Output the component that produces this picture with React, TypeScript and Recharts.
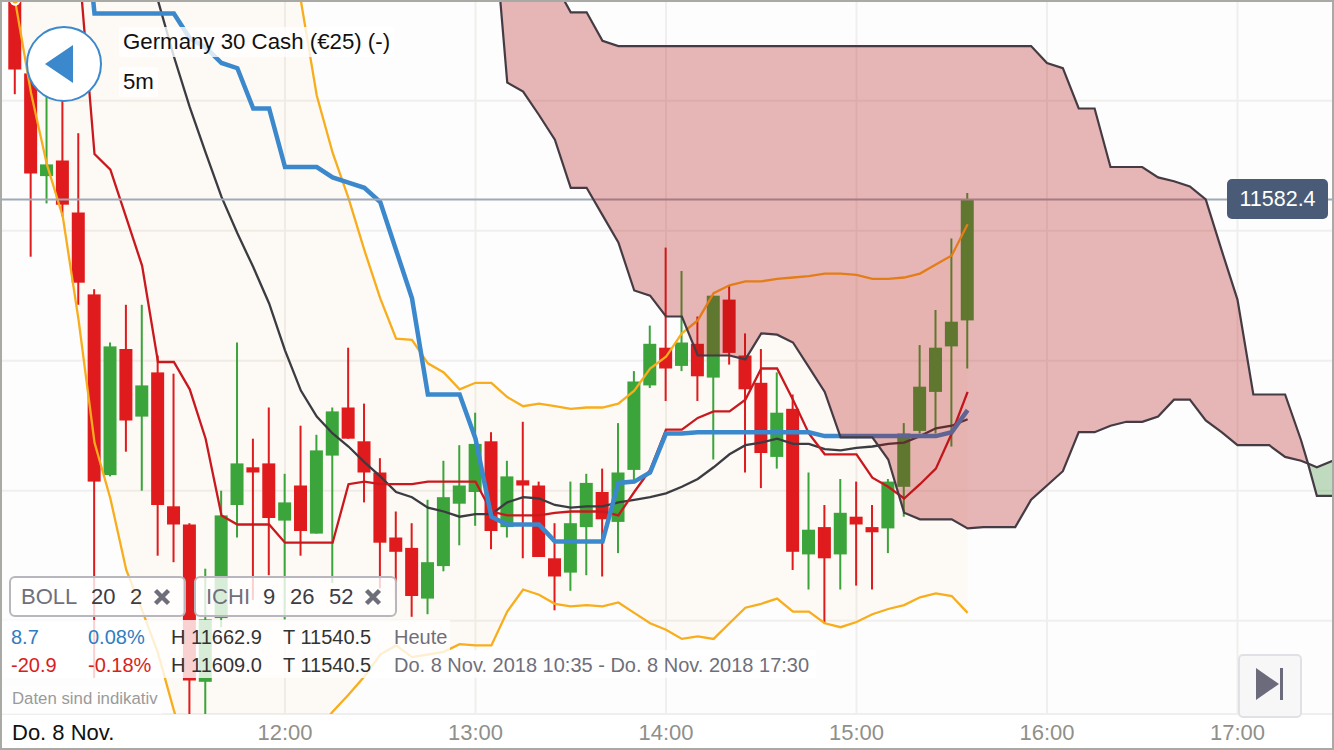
import React from "react";
import {
  ComposedChart, Bar, Line, Area, XAxis, YAxis, CartesianGrid, ReferenceLine,
} from "recharts";

// ---- candles: first candle is 10:35, index counts 5-minute steps from 12:00
const candleStart = -17;
const opens = [11599.3,11592.1,11584.2,11585.4,11581.4,11575.1,11561.2,11570.9,11565.7,11569.1,11558.8,11557.4,11545.3,11550.2,11558.9,11561.8,11562.1,11557.7,11560.4,11556.7,11562.7,11566.4,11563.8,11561.4,11556.4,11555.6,11551.7,11554.2,11559.0,11559.9,11563.8,11557.2,11560.8,11560.4,11554.8,11553.7,11557.2,11559.9,11557.6,11561.6,11568.1,11571.0,11569.6,11571.3,11568.7,11574.7,11570.4,11568.3,11562.6,11566.3,11555.1,11557.2,11555.1,11558.0,11557.2,11557.1,11560.3,11564.6,11567.6,11571.1,11573.1];
const closes = [11592.4,11584.4,11585.1,11582.0,11576.0,11560.7,11571.1,11565.4,11568.1,11558.9,11557.4,11545.4,11550.1,11558.1,11562.1,11561.4,11557.9,11559.1,11556.9,11563.1,11566.1,11564.0,11561.4,11556.0,11555.3,11551.9,11554.5,11559.5,11560.4,11563.6,11556.9,11561.1,11560.4,11554.9,11553.4,11557.5,11560.6,11557.8,11561.4,11568.4,11571.3,11569.4,11571.4,11568.8,11575.0,11570.6,11567.8,11562.9,11566.0,11555.3,11557.0,11554.8,11558.3,11557.4,11556.8,11560.7,11564.4,11568.0,11571.0,11573.0,11582.4];
const highs = [11600.8,11593.1,11590.4,11590.8,11587.5,11575.5,11571.4,11574.3,11574.3,11570.4,11569.0,11557.5,11554.0,11560.0,11571.4,11564.0,11566.4,11561.3,11565.0,11564.3,11566.4,11571.0,11566.7,11562.5,11558.4,11557.5,11559.3,11562.3,11563.5,11566.0,11564.5,11562.3,11565.3,11560.7,11557.5,11560.7,11561.3,11561.7,11565.2,11569.2,11572.7,11578.7,11576.9,11573.4,11575.0,11575.8,11572.1,11570.9,11569.1,11567.4,11561.4,11558.9,11560.9,11560.7,11558.9,11560.9,11565.2,11571.2,11573.9,11579.4,11582.9];
const lows = [11590.5,11578.0,11582.1,11581.1,11574.3,11545.6,11561.1,11563.0,11560.0,11555.0,11554.5,11539.3,11539.3,11549.5,11556.4,11551.6,11553.5,11550.1,11555.0,11556.7,11552.9,11564.0,11559.1,11552.5,11551.6,11550.3,11550.5,11553.8,11555.8,11557.3,11555.5,11556.4,11554.8,11554.9,11550.8,11552.3,11553.5,11553.4,11555.2,11560.8,11567.9,11566.9,11569.2,11566.9,11562.4,11569.7,11561.4,11560.2,11561.7,11553.9,11552.4,11549.8,11552.4,11552.7,11552.4,11555.2,11558.0,11564.4,11564.4,11563.4,11569.4];

// ---- Bollinger 20 2
const bollStart = -17;
const bollUpper = [11640,11639,11638,11637,11636,11635,11634,11633,11632,11630,11628,11626,11624,11621,11618,11614,11610,11605,11597.7,11590.4,11586.0,11582.5,11578.5,11574.8,11571.7,11571.6,11569.8,11569.1,11567.8,11568.3,11568.3,11567.2,11566.5,11566.7,11566.5,11566.3,11566.4,11566.4,11566.7,11567.7,11569.4,11570.3,11572.1,11573.1,11575.2,11575.8,11576.1,11576.1,11576.3,11576.4,11576.5,11576.7,11576.7,11576.6,11576.3,11576.3,11576.4,11576.7,11577.4,11578.1,11580.5];
const bollLower = [11597.7,11590.6,11585.1,11581.1,11573.1,11563.7,11559.4,11553.9,11550.8,11547.5,11543.1,11539.3,11537,11536,11535,11535,11536,11537,11539,11541.5,11543.0,11544.3,11545.7,11547.4,11548.1,11547.2,11547.4,11547.6,11548.2,11548.1,11548.1,11550.7,11552.4,11552.0,11551.3,11551.1,11551.2,11551.1,11551.4,11550.6,11549.8,11549.3,11548.6,11548.8,11548.6,11549.8,11551.0,11551.3,11551.7,11550.7,11550.7,11549.8,11549.5,11549.9,11550.5,11550.9,11551.2,11551.8,11552.1,11551.9,11550.6];
const bollMiddleStart = -9;
const bollMiddle = [11602,11597.7,11593.4,11589.5,11586.0,11582.6,11579.8,11577.2,11574.4,11570.8,11567.7,11565.7,11564.4,11563.4,11562.2,11561.1,11559.9,11559.5,11558.7,11558.4,11558.0,11558.2,11558.2,11559.1,11559.5,11559.4,11558.9,11558.7,11558.8,11558.8,11559.1,11559.3,11559.5,11559.8,11560.3,11560.9,11561.8,11562.8,11563.5,11563.7,11564.0,11563.6,11563.6,11563.2,11563.1,11563.3,11563.4,11563.6,11563.7,11564.2,11564.8,11565.0,11565.5];

// ---- Ichimoku 9 26 52
const tenkanStart = -13;
const tenkan = [11600.8,11585.9,11584.7,11581.0,11577.3,11569.9,11569.9,11567.8,11564.0,11558.1,11557.4,11557.4,11557.4,11556.0,11556.0,11556.0,11556.0,11560.5,11560.7,11560.5,11560.5,11560.5,11560.7,11560.7,11560.7,11560.7,11558.4,11558.1,11558.1,11558.1,11558.3,11558.4,11558.4,11558.4,11558.1,11559.9,11561.6,11564.7,11564.7,11565.6,11566.1,11566.1,11567.0,11569.4,11569.4,11567.0,11564.4,11562.8,11562.8,11562.8,11561.0,11560.3,11559.4,11560.5,11561.7,11564.4,11567.6];
const kijunStart = -13;
const kijun = [11609,11596.7,11596.7,11596.7,11596.7,11596.7,11596.7,11594.8,11594.1,11592.9,11592.5,11589.4,11589.4,11584.9,11584.9,11584.9,11584.1,11583.7,11583.3,11582.2,11578.5,11574.8,11567.4,11567.4,11567.4,11564.0,11558.0,11557.4,11557.4,11557.4,11556.1,11556.1,11556.1,11556.1,11560.6,11560.7,11561.4,11564.4,11564.4,11564.5,11564.5,11564.5,11564.5,11564.5,11564.5,11564.5,11564.5,11564.2,11564.2,11564.2,11564.2,11564.2,11564.2,11564.2,11564.2,11564.5,11566.2];
const cloudStart = 13;
const senkouA = [11605.8,11591.4,11590.7,11588.9,11587.0,11583.3,11583.3,11581.2,11579.1,11575.4,11575.0,11573.4,11573.4,11570.4,11570.4,11570.4,11570.1,11572.1,11572.0,11571.4,11569.5,11567.6,11564.1,11564.1,11564.1,11562.4,11558.3,11557.8,11557.8,11557.8,11557.1,11557.2,11557.2,11557.2,11559.3,11560.4,11561.5,11564.5,11564.5,11565.0,11565.3,11565.3,11565.7,11567.0,11567.0,11565.4,11564.5,11563.5,11563.5,11563.5,11562.6,11562.3,11561.8,11562.3];
const senkouB = [11612,11610,11608,11604,11599.0,11596.8,11596.8,11594.6,11594.2,11594.2,11594.2,11594.2,11594.2,11594.2,11594.2,11594.2,11594.2,11594.2,11594.2,11594.2,11594.2,11594.2,11594.2,11594.2,11594.2,11594.2,11594.2,11594.2,11594.2,11594.2,11594.2,11594.2,11594.2,11594.2,11594.2,11592.9,11592.5,11589.4,11589.4,11584.9,11584.9,11584.9,11584.1,11583.8,11583.4,11582.4,11578.5,11574.7,11567.4,11567.4,11567.4,11563.9,11559.6,11559.6];
const cloudCrossStep = 64.44;
const cloudCrossValue = 11562.1;

// ---- axes
const timeTicks = [0, 12, 24, 36, 48, 60];
const timeLabels = ["12:00", "13:00", "14:00", "15:00", "16:00", "17:00"];
const priceTicks = [11550, 11560, 11570, 11580, 11590];
const lastPrice = 11582.4;

const at = (arr: number[], start: number, t: number) => {
  const v = arr[t - start];
  return v === undefined ? null : v;
};

const rows: any[] = [];
for (let t = -17; t <= 66; t++) {
  const o = at(opens, candleStart, t), c = at(closes, candleStart, t);
  const h = at(highs, candleStart, t), l = at(lows, candleStart, t);
  const up = at(bollUpper, bollStart, t), lo = at(bollLower, bollStart, t);
  const a = at(senkouA, cloudStart, t), b = at(senkouB, cloudStart, t);
  rows.push({
    t, open: o, close: c, high: h, low: l,
    range: h !== null ? [l, h] : null,
    bollUpper: up, bollLower: lo,
    band: up !== null ? [lo, up] : null,
    bollMiddle: at(bollMiddle, bollMiddleStart, t),
    tenkan: at(tenkan, tenkanStart, t),
    kijun: at(kijun, kijunStart, t),
    senkouA: a, senkouB: b,
    cloudRed: a !== null && t <= 64 ? [a, b] : null,
    cloudGreen: a !== null && t >= 65 ? [b, a] : null,
  });
  if (t === 64) {
    rows.push({
      t: cloudCrossStep, senkouA: cloudCrossValue, senkouB: cloudCrossValue,
      cloudRed: [cloudCrossValue, cloudCrossValue],
      cloudGreen: [cloudCrossValue, cloudCrossValue],
    });
  }
}

const FONT = '"Liberation Sans", Arial, sans-serif';
const UP = "#3ba43b";
const DOWN = "#e01b1d";
const BODY_WIDTH = 13;

const Candle = (props: any) => {
  const { x, y, width, height, payload } = props;
  if (!payload || payload.high == null) return null;
  const unit = Math.abs(height) / (payload.high - payload.low);
  const yOf = (v: number) => y + (payload.high - v) * unit;
  const color = payload.close >= payload.open ? UP : DOWN;
  const top = yOf(Math.max(payload.open, payload.close));
  const bottom = yOf(Math.min(payload.open, payload.close));
  const cx = x + width / 2;
  return (
    <g>
      <rect x={cx - 1} y={y} width={2} height={Math.abs(height)} fill={color} />
      <rect x={cx - BODY_WIDTH / 2} y={top} width={BODY_WIDTH} height={Math.max(bottom - top, 1)} fill={color} />
    </g>
  );
};

const TimeTick = (props: any) => {
  const { x, payload } = props;
  const i = timeTicks.indexOf(payload.value);
  return (
    <text x={x} y={740} textAnchor="middle" fontFamily={FONT} fontSize={22} fill="#8f8f8b">
      {timeLabels[i]}
    </text>
  );
};

const PriceTick = (props: any) => {
  const { y, payload } = props;
  return (
    <text x={1236} y={y + 7.5} fontFamily={FONT} fontSize={21.5} fill="#111">
      {Number(payload.value).toFixed(1)}
    </text>
  );
};

const Txt = ({ x, cy, size = 20, color = "#333", children, bg, pad }: any) => (
  <div
    style={{
      position: "absolute", left: x - (pad || 0), top: cy - 15, height: 30, lineHeight: "30px",
      padding: pad ? `0 ${pad}px` : 0, fontFamily: FONT, fontSize: size, color,
      whiteSpace: "nowrap", background: bg,
    }}
  >
    {children}
  </div>
);

const Box = ({ x, y, w, h, bg }: any) => (
  <div style={{ position: "absolute", left: x, top: y, width: w, height: h, background: bg }} />
);

const Cross = ({ cx, cy }: any) => (
  <svg style={{ position: "absolute", left: cx - 9, top: cy - 9 }} width={18} height={18}>
    <path d="M2.5 2.5 L15.5 15.5 M15.5 2.5 L2.5 15.5" stroke="#6e6e7a" strokeWidth={4.4} />
  </svg>
);

const Pill = ({ x, w }: any) => (
  <div
    style={{
      position: "absolute", left: x, top: 576, width: w, height: 41, boxSizing: "border-box",
      border: "2px solid #b7b7bd", borderRadius: 6, background: "rgba(255,255,255,0.8)",
    }}
  />
);

export default function App() {
  return (
    <div style={{ position: "fixed", left: 0, top: 0, width: 1334, height: 750, overflow: "hidden", background: "#fff" }}>
      <ComposedChart
        width={1334}
        height={750}
        data={rows}
        margin={{ top: 0, right: 0, bottom: 0, left: 0 }}
      >
        <CartesianGrid stroke="#f0efed" strokeWidth={2} fill="#fdfdfd" />
        <XAxis
          dataKey="t"
          type="number"
          domain={[-17.953, 66.08]}
          allowDataOverflow
          ticks={timeTicks}
          interval={0}
          height={36}
          axisLine={false}
          tickLine={false}
          tick={TimeTick}
        />
        <YAxis
          type="number"
          orientation="left"
          mirror
          width={0}
          domain={[11542.823, 11597.746]}
          allowDataOverflow
          ticks={priceTicks}
          interval={0}
          axisLine={false}
          tickLine={false}
          tick={PriceTick}
        />
        <Area dataKey="band" type="linear" stroke="none" fill="#f9b11c" fillOpacity={0.035} isAnimationActive={false} zIndex={110} />
        <Bar dataKey="range" barSize={13} shape={Candle} isAnimationActive={false} zIndex={120} />
        <Line dataKey="bollMiddle" type="linear" stroke="#3b3b42" strokeWidth={2.3} dot={false} isAnimationActive={false} zIndex={130} />
        <Line dataKey="tenkan" type="linear" stroke="#c9191f" strokeWidth={2.3} dot={false} isAnimationActive={false} zIndex={131} />
        <Line dataKey="bollUpper" type="linear" stroke="#f8ad1c" strokeWidth={2.3} dot={false} isAnimationActive={false} zIndex={132} />
        <Line dataKey="bollLower" type="linear" stroke="#f8ad1c" strokeWidth={2.3} dot={false} isAnimationActive={false} zIndex={133} />
        <Line dataKey="kijun" type="linear" stroke="#3b88cd" strokeWidth={4.5} dot={false} isAnimationActive={false} zIndex={134} />
        <ReferenceLine y={lastPrice} stroke="#9fa9b8" strokeWidth={2} zIndex={135} />
        <Area dataKey="cloudRed" type="linear" stroke="none" fill="rgb(178,15,15)" fillOpacity={0.3} isAnimationActive={false} zIndex={140} />
        <Area dataKey="cloudGreen" type="linear" stroke="none" fill="rgb(50,140,50)" fillOpacity={0.3} isAnimationActive={false} zIndex={141} />
        <Line dataKey="senkouA" type="linear" stroke="#453b44" strokeWidth={2.2} dot={false} isAnimationActive={false} zIndex={142} />
        <Line dataKey="senkouB" type="linear" stroke="#453b44" strokeWidth={2.2} dot={false} isAnimationActive={false} zIndex={143} />
      </ComposedChart>

      {/* overlay: back button and instrument */}
      <svg style={{ position: "absolute", left: 24, top: 24 }} width={80} height={80}>
        <circle cx={40} cy={40} r={37} fill="#fff" stroke="#3c88cc" strokeWidth={2} />
        <polygon points="21,40 49,21 49,59" fill="#3c88cc" />
      </svg>
      <Txt x={123} cy={42} size={22.25} color="#111" bg="rgba(255,255,255,0.8)" pad={4}>Germany 30 Cash (€25) (-)</Txt>
      <Txt x={123} cy={82} size={22.25} color="#111" bg="rgba(255,255,255,0.8)" pad={4}>5m</Txt>

      {/* price label */}
      <div
        style={{
          position: "absolute", left: 1227, top: 179, width: 101, height: 40, borderRadius: 5,
          background: "#4a5b78", color: "#fff", fontFamily: FONT, fontSize: 21.5, lineHeight: "40px", textAlign: "center",
        }}
      >
        11582.4
      </div>

      {/* indicator pills */}
      <Pill x={9} w={177} />
      <Txt x={21} cy={597} size={22} color="#70707c">BOLL</Txt>
      <Txt x={91} cy={597} size={22} color="#3c3c45">20</Txt>
      <Txt x={130} cy={597} size={22} color="#3c3c45">2</Txt>
      <Cross cx={162} cy={597} />
      <Pill x={194} w={203} />
      <Txt x={206} cy={597} size={22} color="#70707c">ICHI</Txt>
      <Txt x={263} cy={597} size={22} color="#3c3c45">9</Txt>
      <Txt x={290} cy={597} size={22} color="#3c3c45">26</Txt>
      <Txt x={329} cy={597} size={22} color="#3c3c45">52</Txt>
      <Cross cx={373} cy={597} />

      {/* info rows */}
      <Box x={2} y={620} w={448} h={30} bg="rgba(255,255,255,0.8)" />
      <Box x={2} y={650} w={814} h={28} bg="rgba(255,255,255,0.8)" />
      <Box x={2} y={686} w={160} h={28} bg="rgba(255,255,255,0.6)" />
      <Txt x={11} cy={637} size={20} color="#2f7dc1">8.7</Txt>
      <Txt x={88} cy={637} size={20} color="#2f7dc1">0.08%</Txt>
      <Txt x={171} cy={637} size={20} color="#333">H 11662.9</Txt>
      <Txt x={283} cy={637} size={20} color="#333">T 11540.5</Txt>
      <Txt x={394} cy={637} size={20} color="#6f6f7b">Heute</Txt>
      <Txt x={11} cy={665} size={20} color="#d81e20">-20.9</Txt>
      <Txt x={88} cy={665} size={20} color="#d81e20">-0.18%</Txt>
      <Txt x={171} cy={665} size={20} color="#333">H 11609.0</Txt>
      <Txt x={283} cy={665} size={20} color="#333">T 11540.5</Txt>
      <Txt x={394} cy={665} size={20} color="#6f6f7b">Do. 8 Nov. 2018 10:35 - Do. 8 Nov. 2018 17:30</Txt>
      <Txt x={12} cy={699} size={16.8} color="#9a9a9a">Daten sind indikativ</Txt>
      <Txt x={12} cy={733} size={22} color="#111">Do. 8 Nov.</Txt>

      {/* jump-to-end button */}
      <svg style={{ position: "absolute", left: 1238, top: 654 }} width={64} height={64}>
        <rect x={1} y={1} width={62} height={62} rx={4} fill="#f7f7f8" stroke="#e1e1e5" strokeWidth={2} />
        <polygon points="18,14 41,30 18,46" fill="#6b6b7c" />
        <rect x={42} y={14} width={3} height={32} fill="#6b6b7c" />
      </svg>

      {/* device frame */}
      <div style={{ position: "absolute", inset: 0, boxSizing: "border-box", border: "2px solid #a9aaa5", pointerEvents: "none" }} />
    </div>
  );
}
